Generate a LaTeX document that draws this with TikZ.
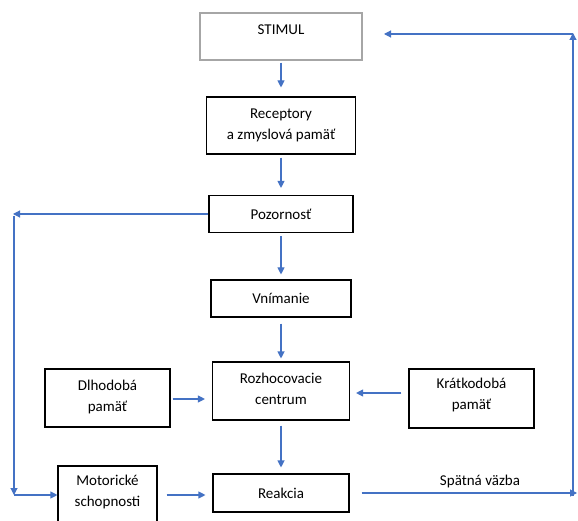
\documentclass[tikz,border=0pt]{standalone}
\usepackage{fontspec}
\setmainfont{Carlito}
\usetikzlibrary{arrows.meta}
\definecolor{arr}{HTML}{4472C4}
\definecolor{gborder}{HTML}{A6A6A6}
\begin{document}
\begin{tikzpicture}[x=1pt,y=-1pt,
  box/.style={draw=black, line width=1.1pt, inner sep=0pt, align=center,
    font=\fontsize{15}{21}\selectfont},
  con/.style={draw=arr, line width=1.1pt, -{Triangle[length=7pt,width=7pt]}}]
\clip (0,0) rectangle (578,521);
\fill[white] (0,0) rectangle (578,521);

\node[box, draw=gborder, minimum width=162pt, minimum height=47pt, text height=10pt, text depth=13pt] (stimul) at (281,36.5) {STIMUL};
\node[box, minimum width=149pt, minimum height=57pt] (rec) at (281,125.5) {Receptory\\a zmyslová pamäť};
\node[box, minimum width=144pt, minimum height=37pt] (poz) at (281,214) {Pozornosť};
\node[box, minimum width=140pt, minimum height=37pt] (vnim) at (281,298.5) {Vnímanie};
\node[box, minimum width=137pt, minimum height=58pt] (rozh) at (281,391) {Rozhocovacie\\centrum\\[-16pt]};
\node[box, minimum width=125pt, minimum height=58pt] (dlho) at (107.5,398) {Dlhodobá\\pamäť\\[-17pt]};
\node[box, minimum width=125pt, minimum height=59pt] (krat) at (471.5,398.5) {Krátkodobá\\pamäť\\[-12pt]};
\node[box, minimum width=136pt, minimum height=38pt] (reak) at (281,493) {Reakcia};
\node[box, minimum width=99pt, minimum height=62pt] (mot) at (107.5,497) {Motorické\\schopnosti\\[-8pt]};

\node[font=\fontsize{15}{18}\selectfont, inner sep=0pt] (spat) at (480,481) {Spätná väzba};

\coordinate (lt) at (13,214);
\coordinate (lb) at (14,495);
\coordinate (rb) at (577,493);
\coordinate (rt) at (573,33);
\coordinate (stin) at (384,34);

\draw[con, shorten <=2pt, shorten >=9pt] (stimul.south) -- (rec.north);
\draw[con, shorten <=3pt, shorten >=7pt] (rec.south) -- (poz.north);
\draw[con, shorten <=3pt, shorten >=5pt] (poz.south) -- (vnim.north);
\draw[con, shorten <=6pt, shorten >=3pt] (vnim.south) -- (rozh.north);
\draw[con, shorten <=5pt, shorten >=6pt] (rozh.south) -- (reak.north);

\draw[con] (poz.west) -- (lt);
\draw[con] (14,216) -- (lb);
\draw[con] (lb) -- (mot.west |- lb);
\draw[con, shorten <=9pt, shorten >=7pt] (mot.east |- 0,495) -- (reak.west |- 0,495);
\draw[con, shorten <=2pt, shorten >=7pt] (dlho.east |- 0,399) -- (rozh.west |- 0,399);
\draw[con, shorten <=7pt, shorten >=6pt] (krat.west |- 0,393) -- (rozh.east |- 0,393);
\draw[con, shorten <=12pt] (reak.east) -- (rb);
\draw[con] (573,496) -- (rt);
\draw[con] (573,34) -- (stin);
\end{tikzpicture}
\end{document}
